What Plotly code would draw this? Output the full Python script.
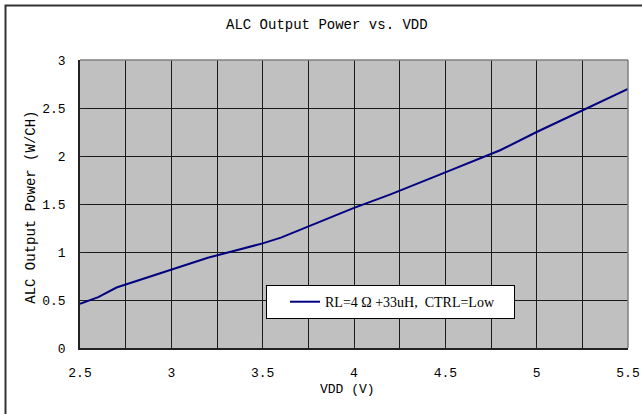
import plotly.graph_objects as go

# Supply voltage (V) and ALC output power per channel (W)
vdd = [2.5, 2.6, 2.7, 3.0, 3.2, 3.5, 3.6, 4.0, 4.2, 4.5, 4.8, 5.0, 5.2, 5.5]
power = [0.46, 0.53, 0.63, 0.82, 0.94, 1.09, 1.15, 1.46, 1.60, 1.83, 2.06, 2.25, 2.43, 2.70]

series_name = "RL=4 Ω +33uH,  CTRL=Low"
x_ticks = [2.5, 3.0, 3.5, 4.0, 4.5, 5.0, 5.5]
x_tick_text = ["2.5", "3", "3.5", "4", "4.5", "5", "5.5"]
y_ticks = [0, 0.5, 1.0, 1.5, 2.0, 2.5, 3.0]
y_tick_text = ["0", "0.5", "1", "1.5", "2", "2.5", "3"]

W, H = 642, 414
L, R, T, B = 80, 14, 60, 65.5
pw, ph = W - L - R, H - T - B

def px(x):
    return (x - L) / pw

def py(y):
    return (H - B - y) / ph

MONO = "Liberation Mono"
SERIF = "Liberation Serif"

fig = go.Figure()
fig.add_trace(go.Scatter(
    x=vdd, y=power, mode="lines", name=series_name,
    line=dict(color="#000080", width=2),
))

fig.update_layout(
    width=W, height=H, autosize=False,
    margin=dict(l=L, r=R, t=T, b=B, autoexpand=False),
    paper_bgcolor="white",
    plot_bgcolor="#C0C0C0",
    showlegend=True,
    legend=dict(
        x=px(266), y=py(285.5), xanchor="left", yanchor="top",
        bgcolor="white", bordercolor="black", borderwidth=1,
        font=dict(family=SERIF, size=14, color="black"),
        orientation="h", entrywidth=184, indentation=18,
    ),
    xaxis=dict(
        range=[2.5, 5.5], tickvals=x_ticks, ticktext=x_tick_text,
        automargin=False,
        showgrid=True, gridcolor="#1a1a1a", gridwidth=1,
        minor=dict(dtick=0.25, tick0=2.5, showgrid=True, gridcolor="#1a1a1a", gridwidth=1),
        showline=True, linecolor="#222", linewidth=1.5,
        ticks="inside", ticklen=5, tickcolor="#222",
        tickfont=dict(family=MONO, size=13, color="black"),
        ticklabelstandoff=12, zeroline=False,
    ),
    yaxis=dict(
        range=[0, 3], tickvals=y_ticks, ticktext=y_tick_text,
        automargin=False,
        showgrid=True, gridcolor="#1a1a1a", gridwidth=1,
        showline=True, linecolor="#222", linewidth=1.5,
        ticks="inside", ticklen=5, tickcolor="#222",
        tickfont=dict(family=MONO, size=13, color="black"),
        ticklabelstandoff=10, zeroline=False,
    ),
    shapes=[
        # plot area frame (top and right edges)
        dict(type="line", xref="paper", yref="paper", x0=0, x1=1, y0=1, y1=1,
             line=dict(color="#808080", width=1.5)),
        dict(type="line", xref="paper", yref="paper", x0=1, x1=1, y0=0, y1=1,
             line=dict(color="#808080", width=1.5)),
        # chart area border
        dict(type="rect", xref="paper", yref="paper",
             x0=px(5.5), x1=px(700), y0=py(460), y1=py(5.5),
             line=dict(color="#333333", width=2), fillcolor="rgba(0,0,0,0)",
             layer="above"),
    ],
    annotations=[
        dict(text="ALC Output Power vs. VDD", xref="paper", yref="paper",
             x=px(327), y=py(25), xanchor="center", yanchor="middle",
             showarrow=False, font=dict(family=MONO, size=14, color="black")),
        dict(text="VDD (V)", xref="paper", yref="paper",
             x=px(347), y=py(390), xanchor="center", yanchor="middle",
             showarrow=False, font=dict(family=MONO, size=13, color="black")),
        dict(text="ALC Output Power (W/CH)", xref="paper", yref="paper",
             x=px(31), y=py(208), xanchor="center", yanchor="middle",
             textangle=-90, showarrow=False,
             font=dict(family=MONO, size=14, color="black")),
    ],
)

fig.write_html("out.html")
